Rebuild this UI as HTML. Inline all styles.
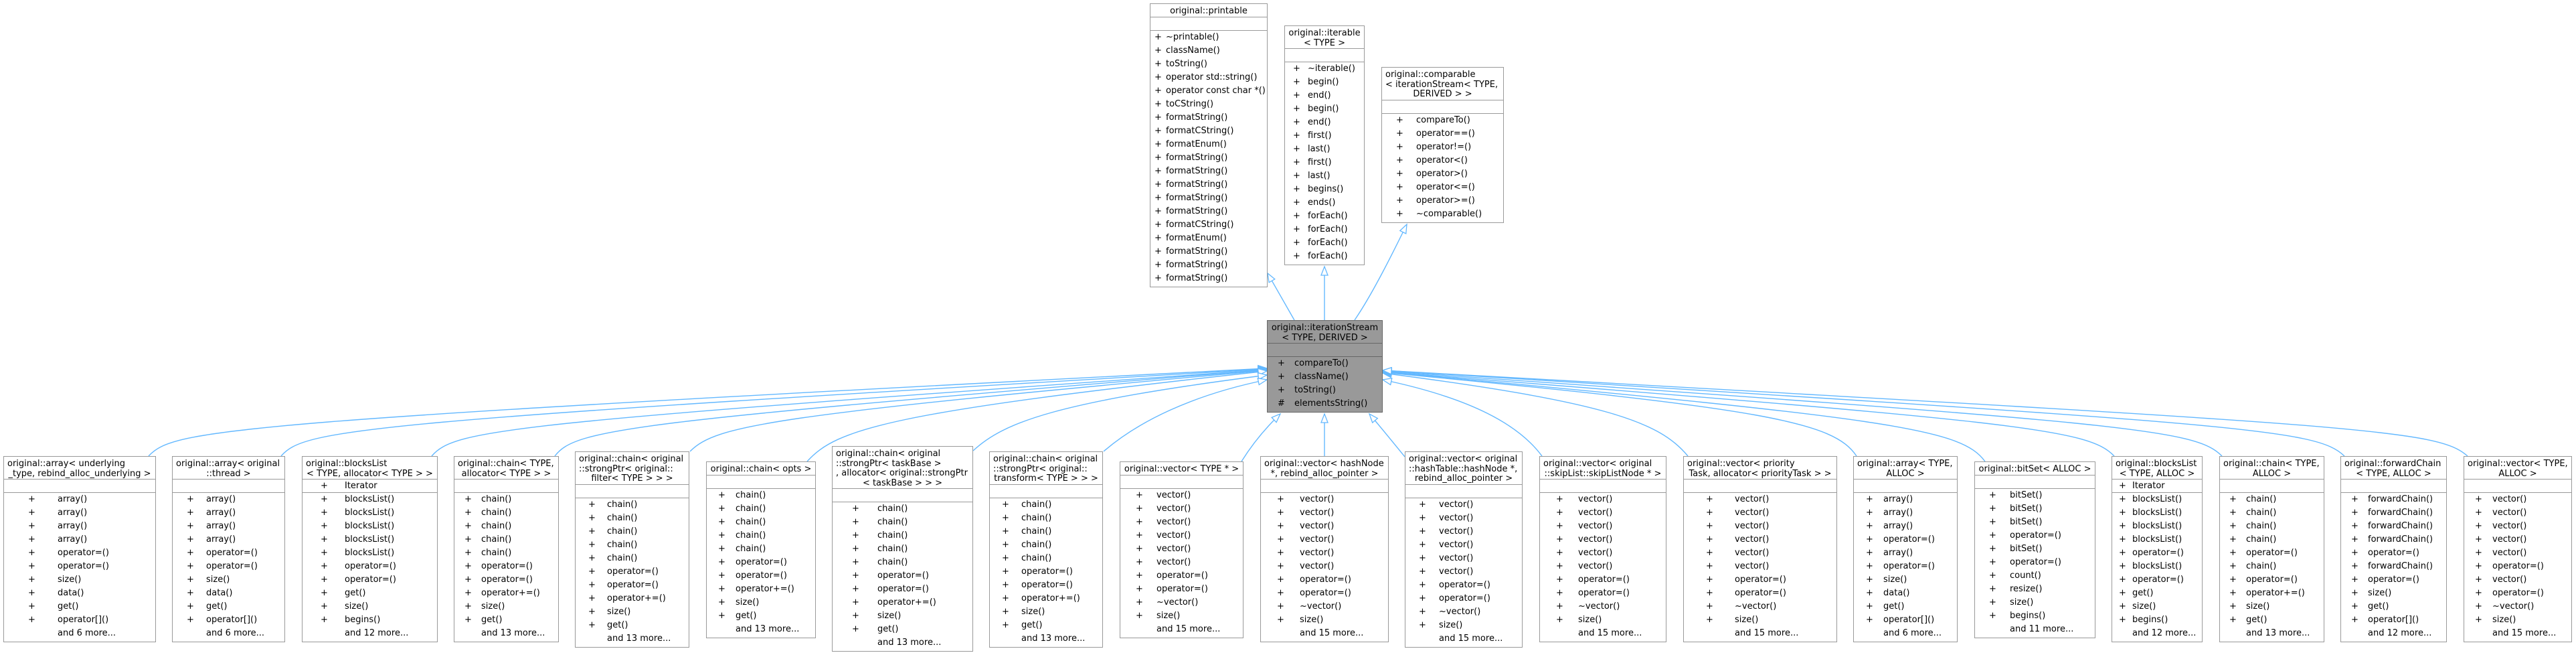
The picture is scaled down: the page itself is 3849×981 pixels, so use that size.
<!DOCTYPE html>
<html><head><meta charset="utf-8">
<style>
html,body{margin:0;padding:0;background:#fff;}
body{width:3849px;height:981px;position:relative;overflow:hidden;font-family:"DejaVu Sans","Liberation Sans",sans-serif;font-size:13px;color:#000;}
svg.edges{position:absolute;left:0;top:0;}
.b{position:absolute;box-sizing:border-box;border:1.5px solid #999;background:#fff;}
.t{box-sizing:border-box;padding-top:4px;border-bottom:1.5px solid #999;line-height:14.5px;white-space:nowrap;}
.t .l{padding-left:5px;text-align:left;}
.t .c{text-align:center;}
.e{height:20px;border-bottom:1.5px solid #999;box-sizing:border-box;position:relative;}
.m{padding-top:0px;padding-bottom:2px;}
.r{position:relative;height:20px;line-height:20px;white-space:nowrap;}
.p{position:absolute;left:var(--p);}
.n{position:absolute;left:var(--n);}
.g{background:#999;border-color:#666;}
.g .t,.g .e{border-color:#666;}
</style></head><body>
<svg class="edges" width="3849" height="981" viewBox="0 0 3849 981">
<defs>
<marker id="a" markerUnits="userSpaceOnUse" markerWidth="16" markerHeight="12" refX="14" refY="6" orient="auto">
<path d="M1,1 L14,6 L1,11 Z" fill="#fff" stroke="#63b8ff" stroke-width="1.3"/>
</marker>
</defs>
<g fill="none" stroke="#63b8ff" stroke-width="1.4" marker-end="url(#a)">
<path d="M1934,478 L1894,408"/>
<path d="M1979,478 L1979,398"/>
<path d="M2024,478 C2050,440 2080,380 2102,335"/>
<path d="M222,681 C260,640 340,630 1893,550"/>
<path d="M420,681 C455,640 540,630 1893,551"/>
<path d="M645,681 C680,640 760,632 1893,552"/>
<path d="M829,681 C860,640 940,630 1893,552"/>
<path d="M1031,674 C1070,635 1150,620 1893,553"/>
<path d="M1206,689 C1250,640 1330,615 1893,554"/>
<path d="M1454,673 C1500,630 1580,600 1893,560"/>
<path d="M1649,674 C1700,630 1780,590 1893,567"/>
<path d="M1855,689 C1870,665 1890,640 1913,618"/>
<path d="M1979,681 L1979,618"/>
<path d="M2099,682 C2085,665 2065,640 2046,618"/>
<path d="M2304,681 C2270,635 2200,595 2066,567"/>
<path d="M2522,681 C2480,630 2400,600 2066,557"/>
<path d="M2774,681 C2740,630 2640,610 2066,556"/>
<path d="M2966,689 C2930,640 2830,625 2066,555"/>
<path d="M3159,681 C3120,640 3020,630 2066,555"/>
<path d="M3320,681 C3280,640 3180,632 2066,554"/>
<path d="M3503,681 C3460,640 3360,634 2066,553"/>
<path d="M3687,681 C3640,640 3540,636 2066,553"/>
</g>
</svg>

<!-- printable -->
<div class="b" style="left:1718px;top:5px;width:176px;--p:6px;--n:23px">
<div class="t"><div class="c">original::printable</div></div><div class="e"></div>
<div class="m">
<div class="r"><span class="p">+</span><span class="n">~printable()</span></div>
<div class="r"><span class="p">+</span><span class="n">className()</span></div>
<div class="r"><span class="p">+</span><span class="n">toString()</span></div>
<div class="r"><span class="p">+</span><span class="n">operator std::string()</span></div>
<div class="r"><span class="p">+</span><span class="n">operator const char *()</span></div>
<div class="r"><span class="p">+</span><span class="n">toCString()</span></div>
<div class="r"><span class="p">+</span><span class="n">formatString()</span></div>
<div class="r"><span class="p">+</span><span class="n">formatCString()</span></div>
<div class="r"><span class="p">+</span><span class="n">formatEnum()</span></div>
<div class="r"><span class="p">+</span><span class="n">formatString()</span></div>
<div class="r"><span class="p">+</span><span class="n">formatString()</span></div>
<div class="r"><span class="p">+</span><span class="n">formatString()</span></div>
<div class="r"><span class="p">+</span><span class="n">formatString()</span></div>
<div class="r"><span class="p">+</span><span class="n">formatString()</span></div>
<div class="r"><span class="p">+</span><span class="n">formatCString()</span></div>
<div class="r"><span class="p">+</span><span class="n">formatEnum()</span></div>
<div class="r"><span class="p">+</span><span class="n">formatString()</span></div>
<div class="r"><span class="p">+</span><span class="n">formatString()</span></div>
<div class="r"><span class="p">+</span><span class="n">formatString()</span></div>
</div></div>

<!-- iterable -->
<div class="b" style="left:1919px;top:38px;width:120px;--p:12px;--n:34px">
<div class="t"><div class="c">original::iterable</div><div class="c">&lt; TYPE &gt;</div></div><div class="e"></div>
<div class="m">
<div class="r"><span class="p">+</span><span class="n">~iterable()</span></div>
<div class="r"><span class="p">+</span><span class="n">begin()</span></div>
<div class="r"><span class="p">+</span><span class="n">end()</span></div>
<div class="r"><span class="p">+</span><span class="n">begin()</span></div>
<div class="r"><span class="p">+</span><span class="n">end()</span></div>
<div class="r"><span class="p">+</span><span class="n">first()</span></div>
<div class="r"><span class="p">+</span><span class="n">last()</span></div>
<div class="r"><span class="p">+</span><span class="n">first()</span></div>
<div class="r"><span class="p">+</span><span class="n">last()</span></div>
<div class="r"><span class="p">+</span><span class="n">begins()</span></div>
<div class="r"><span class="p">+</span><span class="n">ends()</span></div>
<div class="r"><span class="p">+</span><span class="n">forEach()</span></div>
<div class="r"><span class="p">+</span><span class="n">forEach()</span></div>
<div class="r"><span class="p">+</span><span class="n">forEach()</span></div>
<div class="r"><span class="p">+</span><span class="n">forEach()</span></div>
</div></div>

<!-- comparable -->
<div class="b" style="left:2064px;top:100px;width:183px;--p:21px;--n:51px">
<div class="t"><div class="l">original::comparable</div><div class="l">&lt; iterationStream&lt; TYPE,</div><div class="c">DERIVED &gt; &gt;</div></div><div class="e"></div>
<div class="m">
<div class="r"><span class="p">+</span><span class="n">compareTo()</span></div>
<div class="r"><span class="p">+</span><span class="n">operator==()</span></div>
<div class="r"><span class="p">+</span><span class="n">operator!=()</span></div>
<div class="r"><span class="p">+</span><span class="n">operator&lt;()</span></div>
<div class="r"><span class="p">+</span><span class="n">operator&gt;()</span></div>
<div class="r"><span class="p">+</span><span class="n">operator&lt;=()</span></div>
<div class="r"><span class="p">+</span><span class="n">operator&gt;=()</span></div>
<div class="r"><span class="p">+</span><span class="n">~comparable()</span></div>
</div></div>

<!-- iterationStream -->
<div class="b g" style="left:1893px;top:478px;width:173px;--p:15px;--n:40px">
<div class="t"><div class="c">original::iterationStream</div><div class="c">&lt; TYPE, DERIVED &gt;</div></div><div class="e"></div>
<div class="m">
<div class="r"><span class="p">+</span><span class="n">compareTo()</span></div>
<div class="r"><span class="p">+</span><span class="n">className()</span></div>
<div class="r"><span class="p">+</span><span class="n">toString()</span></div>
<div class="r"><span class="p">#</span><span class="n">elementsString()</span></div>
</div></div>

<!-- B1 -->
<div class="b" style="left:5px;top:681px;width:228px;--p:36px;--n:80px">
<div class="t"><div class="l">original::array&lt; underlying</div><div class="c">_type, rebind_alloc_underlying &gt;</div></div><div class="e"></div>
<div class="m">
<div class="r"><span class="p">+</span><span class="n">array()</span></div>
<div class="r"><span class="p">+</span><span class="n">array()</span></div>
<div class="r"><span class="p">+</span><span class="n">array()</span></div>
<div class="r"><span class="p">+</span><span class="n">array()</span></div>
<div class="r"><span class="p">+</span><span class="n">operator=()</span></div>
<div class="r"><span class="p">+</span><span class="n">operator=()</span></div>
<div class="r"><span class="p">+</span><span class="n">size()</span></div>
<div class="r"><span class="p">+</span><span class="n">data()</span></div>
<div class="r"><span class="p">+</span><span class="n">get()</span></div>
<div class="r"><span class="p">+</span><span class="n">operator[]()</span></div>
<div class="r"><span class="n">and 6 more...</span></div>
</div></div>

<!-- B2 -->
<div class="b" style="left:257px;top:681px;width:169px;--p:21px;--n:50px">
<div class="t"><div class="l">original::array&lt; original</div><div class="c">::thread &gt;</div></div><div class="e"></div>
<div class="m">
<div class="r"><span class="p">+</span><span class="n">array()</span></div>
<div class="r"><span class="p">+</span><span class="n">array()</span></div>
<div class="r"><span class="p">+</span><span class="n">array()</span></div>
<div class="r"><span class="p">+</span><span class="n">array()</span></div>
<div class="r"><span class="p">+</span><span class="n">operator=()</span></div>
<div class="r"><span class="p">+</span><span class="n">operator=()</span></div>
<div class="r"><span class="p">+</span><span class="n">size()</span></div>
<div class="r"><span class="p">+</span><span class="n">data()</span></div>
<div class="r"><span class="p">+</span><span class="n">get()</span></div>
<div class="r"><span class="p">+</span><span class="n">operator[]()</span></div>
<div class="r"><span class="n">and 6 more...</span></div>
</div></div>

<!-- B3 -->
<div class="b" style="left:451px;top:681px;width:203px;--p:27px;--n:63px">
<div class="t"><div class="l">original::blocksList</div><div class="c">&lt; TYPE, allocator&lt; TYPE &gt; &gt;</div></div>
<div class="e"><div class="r"><span class="p">+</span><span class="n">Iterator</span></div></div>
<div class="m">
<div class="r"><span class="p">+</span><span class="n">blocksList()</span></div>
<div class="r"><span class="p">+</span><span class="n">blocksList()</span></div>
<div class="r"><span class="p">+</span><span class="n">blocksList()</span></div>
<div class="r"><span class="p">+</span><span class="n">blocksList()</span></div>
<div class="r"><span class="p">+</span><span class="n">blocksList()</span></div>
<div class="r"><span class="p">+</span><span class="n">operator=()</span></div>
<div class="r"><span class="p">+</span><span class="n">operator=()</span></div>
<div class="r"><span class="p">+</span><span class="n">get()</span></div>
<div class="r"><span class="p">+</span><span class="n">size()</span></div>
<div class="r"><span class="p">+</span><span class="n">begins()</span></div>
<div class="r"><span class="n">and 12 more...</span></div>
</div></div>

<!-- B4 -->
<div class="b" style="left:678px;top:681px;width:157px;--p:15px;--n:40px">
<div class="t"><div class="l">original::chain&lt; TYPE,</div><div class="c">allocator&lt; TYPE &gt; &gt;</div></div><div class="e"></div>
<div class="m">
<div class="r"><span class="p">+</span><span class="n">chain()</span></div>
<div class="r"><span class="p">+</span><span class="n">chain()</span></div>
<div class="r"><span class="p">+</span><span class="n">chain()</span></div>
<div class="r"><span class="p">+</span><span class="n">chain()</span></div>
<div class="r"><span class="p">+</span><span class="n">chain()</span></div>
<div class="r"><span class="p">+</span><span class="n">operator=()</span></div>
<div class="r"><span class="p">+</span><span class="n">operator=()</span></div>
<div class="r"><span class="p">+</span><span class="n">operator+=()</span></div>
<div class="r"><span class="p">+</span><span class="n">size()</span></div>
<div class="r"><span class="p">+</span><span class="n">get()</span></div>
<div class="r"><span class="n">and 13 more...</span></div>
</div></div>

<!-- B5 -->
<div class="b" style="left:859px;top:674px;width:171px;--p:19px;--n:47px">
<div class="t"><div class="l">original::chain&lt; original</div><div class="l">::strongPtr&lt; original::</div><div class="c">filter&lt; TYPE &gt; &gt; &gt;</div></div><div class="e"></div>
<div class="m">
<div class="r"><span class="p">+</span><span class="n">chain()</span></div>
<div class="r"><span class="p">+</span><span class="n">chain()</span></div>
<div class="r"><span class="p">+</span><span class="n">chain()</span></div>
<div class="r"><span class="p">+</span><span class="n">chain()</span></div>
<div class="r"><span class="p">+</span><span class="n">chain()</span></div>
<div class="r"><span class="p">+</span><span class="n">operator=()</span></div>
<div class="r"><span class="p">+</span><span class="n">operator=()</span></div>
<div class="r"><span class="p">+</span><span class="n">operator+=()</span></div>
<div class="r"><span class="p">+</span><span class="n">size()</span></div>
<div class="r"><span class="p">+</span><span class="n">get()</span></div>
<div class="r"><span class="n">and 13 more...</span></div>
</div></div>

<!-- B6 -->
<div class="b" style="left:1055px;top:689px;width:164px;--p:17px;--n:43px">
<div class="t"><div class="c">original::chain&lt; opts &gt;</div></div><div class="e"></div>
<div class="m">
<div class="r"><span class="p">+</span><span class="n">chain()</span></div>
<div class="r"><span class="p">+</span><span class="n">chain()</span></div>
<div class="r"><span class="p">+</span><span class="n">chain()</span></div>
<div class="r"><span class="p">+</span><span class="n">chain()</span></div>
<div class="r"><span class="p">+</span><span class="n">chain()</span></div>
<div class="r"><span class="p">+</span><span class="n">operator=()</span></div>
<div class="r"><span class="p">+</span><span class="n">operator=()</span></div>
<div class="r"><span class="p">+</span><span class="n">operator+=()</span></div>
<div class="r"><span class="p">+</span><span class="n">size()</span></div>
<div class="r"><span class="p">+</span><span class="n">get()</span></div>
<div class="r"><span class="n">and 13 more...</span></div>
</div></div>

<!-- B7 -->
<div class="b" style="left:1243px;top:666px;width:211px;--p:29px;--n:67px">
<div class="t"><div class="l">original::chain&lt; original</div><div class="l">::strongPtr&lt; taskBase &gt;</div><div class="l">, allocator&lt; original::strongPtr</div><div class="c">&lt; taskBase &gt; &gt; &gt;</div></div><div class="e"></div>
<div class="m">
<div class="r"><span class="p">+</span><span class="n">chain()</span></div>
<div class="r"><span class="p">+</span><span class="n">chain()</span></div>
<div class="r"><span class="p">+</span><span class="n">chain()</span></div>
<div class="r"><span class="p">+</span><span class="n">chain()</span></div>
<div class="r"><span class="p">+</span><span class="n">chain()</span></div>
<div class="r"><span class="p">+</span><span class="n">operator=()</span></div>
<div class="r"><span class="p">+</span><span class="n">operator=()</span></div>
<div class="r"><span class="p">+</span><span class="n">operator+=()</span></div>
<div class="r"><span class="p">+</span><span class="n">size()</span></div>
<div class="r"><span class="p">+</span><span class="n">get()</span></div>
<div class="r"><span class="n">and 13 more...</span></div>
</div></div>

<!-- B8 -->
<div class="b" style="left:1478px;top:674px;width:170px;--p:18px;--n:47px">
<div class="t"><div class="l">original::chain&lt; original</div><div class="l">::strongPtr&lt; original::</div><div class="c">transform&lt; TYPE &gt; &gt; &gt;</div></div><div class="e"></div>
<div class="m">
<div class="r"><span class="p">+</span><span class="n">chain()</span></div>
<div class="r"><span class="p">+</span><span class="n">chain()</span></div>
<div class="r"><span class="p">+</span><span class="n">chain()</span></div>
<div class="r"><span class="p">+</span><span class="n">chain()</span></div>
<div class="r"><span class="p">+</span><span class="n">chain()</span></div>
<div class="r"><span class="p">+</span><span class="n">operator=()</span></div>
<div class="r"><span class="p">+</span><span class="n">operator=()</span></div>
<div class="r"><span class="p">+</span><span class="n">operator+=()</span></div>
<div class="r"><span class="p">+</span><span class="n">size()</span></div>
<div class="r"><span class="p">+</span><span class="n">get()</span></div>
<div class="r"><span class="n">and 13 more...</span></div>
</div></div>

<!-- B9 -->
<div class="b" style="left:1673px;top:689px;width:185px;--p:23px;--n:54px">
<div class="t"><div class="c">original::vector&lt; TYPE * &gt;</div></div><div class="e"></div>
<div class="m">
<div class="r"><span class="p">+</span><span class="n">vector()</span></div>
<div class="r"><span class="p">+</span><span class="n">vector()</span></div>
<div class="r"><span class="p">+</span><span class="n">vector()</span></div>
<div class="r"><span class="p">+</span><span class="n">vector()</span></div>
<div class="r"><span class="p">+</span><span class="n">vector()</span></div>
<div class="r"><span class="p">+</span><span class="n">vector()</span></div>
<div class="r"><span class="p">+</span><span class="n">operator=()</span></div>
<div class="r"><span class="p">+</span><span class="n">operator=()</span></div>
<div class="r"><span class="p">+</span><span class="n">~vector()</span></div>
<div class="r"><span class="p">+</span><span class="n">size()</span></div>
<div class="r"><span class="n">and 15 more...</span></div>
</div></div>

<!-- B10 -->
<div class="b" style="left:1883px;top:681px;width:192px;--p:24px;--n:58px">
<div class="t"><div class="l">original::vector&lt; hashNode</div><div class="c">*, rebind_alloc_pointer &gt;</div></div><div class="e"></div>
<div class="m">
<div class="r"><span class="p">+</span><span class="n">vector()</span></div>
<div class="r"><span class="p">+</span><span class="n">vector()</span></div>
<div class="r"><span class="p">+</span><span class="n">vector()</span></div>
<div class="r"><span class="p">+</span><span class="n">vector()</span></div>
<div class="r"><span class="p">+</span><span class="n">vector()</span></div>
<div class="r"><span class="p">+</span><span class="n">vector()</span></div>
<div class="r"><span class="p">+</span><span class="n">operator=()</span></div>
<div class="r"><span class="p">+</span><span class="n">operator=()</span></div>
<div class="r"><span class="p">+</span><span class="n">~vector()</span></div>
<div class="r"><span class="p">+</span><span class="n">size()</span></div>
<div class="r"><span class="n">and 15 more...</span></div>
</div></div>

<!-- B11 -->
<div class="b" style="left:2099px;top:674px;width:176px;--p:20px;--n:50px">
<div class="t"><div class="l">original::vector&lt; original</div><div class="l">::hashTable::hashNode *,</div><div class="c">rebind_alloc_pointer &gt;</div></div><div class="e"></div>
<div class="m">
<div class="r"><span class="p">+</span><span class="n">vector()</span></div>
<div class="r"><span class="p">+</span><span class="n">vector()</span></div>
<div class="r"><span class="p">+</span><span class="n">vector()</span></div>
<div class="r"><span class="p">+</span><span class="n">vector()</span></div>
<div class="r"><span class="p">+</span><span class="n">vector()</span></div>
<div class="r"><span class="p">+</span><span class="n">vector()</span></div>
<div class="r"><span class="p">+</span><span class="n">operator=()</span></div>
<div class="r"><span class="p">+</span><span class="n">operator=()</span></div>
<div class="r"><span class="p">+</span><span class="n">~vector()</span></div>
<div class="r"><span class="p">+</span><span class="n">size()</span></div>
<div class="r"><span class="n">and 15 more...</span></div>
</div></div>

<!-- B12 -->
<div class="b" style="left:2300px;top:681px;width:190px;--p:24px;--n:57px">
<div class="t"><div class="l">original::vector&lt; original</div><div class="c">::skipList::skipListNode * &gt;</div></div><div class="e"></div>
<div class="m">
<div class="r"><span class="p">+</span><span class="n">vector()</span></div>
<div class="r"><span class="p">+</span><span class="n">vector()</span></div>
<div class="r"><span class="p">+</span><span class="n">vector()</span></div>
<div class="r"><span class="p">+</span><span class="n">vector()</span></div>
<div class="r"><span class="p">+</span><span class="n">vector()</span></div>
<div class="r"><span class="p">+</span><span class="n">vector()</span></div>
<div class="r"><span class="p">+</span><span class="n">operator=()</span></div>
<div class="r"><span class="p">+</span><span class="n">operator=()</span></div>
<div class="r"><span class="p">+</span><span class="n">~vector()</span></div>
<div class="r"><span class="p">+</span><span class="n">size()</span></div>
<div class="r"><span class="n">and 15 more...</span></div>
</div></div>

<!-- B13 -->
<div class="b" style="left:2515px;top:681px;width:230px;--p:33px;--n:76px">
<div class="t"><div class="l">original::vector&lt; priority</div><div class="c">Task, allocator&lt; priorityTask &gt; &gt;</div></div><div class="e"></div>
<div class="m">
<div class="r"><span class="p">+</span><span class="n">vector()</span></div>
<div class="r"><span class="p">+</span><span class="n">vector()</span></div>
<div class="r"><span class="p">+</span><span class="n">vector()</span></div>
<div class="r"><span class="p">+</span><span class="n">vector()</span></div>
<div class="r"><span class="p">+</span><span class="n">vector()</span></div>
<div class="r"><span class="p">+</span><span class="n">vector()</span></div>
<div class="r"><span class="p">+</span><span class="n">operator=()</span></div>
<div class="r"><span class="p">+</span><span class="n">operator=()</span></div>
<div class="r"><span class="p">+</span><span class="n">~vector()</span></div>
<div class="r"><span class="p">+</span><span class="n">size()</span></div>
<div class="r"><span class="n">and 15 more...</span></div>
</div></div>

<!-- B14 -->
<div class="b" style="left:2769px;top:681px;width:156px;--p:18px;--n:44px">
<div class="t"><div class="l">original::array&lt; TYPE,</div><div class="c">ALLOC &gt;</div></div><div class="e"></div>
<div class="m">
<div class="r"><span class="p">+</span><span class="n">array()</span></div>
<div class="r"><span class="p">+</span><span class="n">array()</span></div>
<div class="r"><span class="p">+</span><span class="n">array()</span></div>
<div class="r"><span class="p">+</span><span class="n">operator=()</span></div>
<div class="r"><span class="p">+</span><span class="n">array()</span></div>
<div class="r"><span class="p">+</span><span class="n">operator=()</span></div>
<div class="r"><span class="p">+</span><span class="n">size()</span></div>
<div class="r"><span class="p">+</span><span class="n">data()</span></div>
<div class="r"><span class="p">+</span><span class="n">get()</span></div>
<div class="r"><span class="p">+</span><span class="n">operator[]()</span></div>
<div class="r"><span class="n">and 6 more...</span></div>
</div></div>

<!-- B15 -->
<div class="b" style="left:2950px;top:689px;width:181px;--p:21px;--n:52px">
<div class="t"><div class="c">original::bitSet&lt; ALLOC &gt;</div></div><div class="e"></div>
<div class="m">
<div class="r"><span class="p">+</span><span class="n">bitSet()</span></div>
<div class="r"><span class="p">+</span><span class="n">bitSet()</span></div>
<div class="r"><span class="p">+</span><span class="n">bitSet()</span></div>
<div class="r"><span class="p">+</span><span class="n">operator=()</span></div>
<div class="r"><span class="p">+</span><span class="n">bitSet()</span></div>
<div class="r"><span class="p">+</span><span class="n">operator=()</span></div>
<div class="r"><span class="p">+</span><span class="n">count()</span></div>
<div class="r"><span class="p">+</span><span class="n">resize()</span></div>
<div class="r"><span class="p">+</span><span class="n">size()</span></div>
<div class="r"><span class="p">+</span><span class="n">begins()</span></div>
<div class="r"><span class="n">and 11 more...</span></div>
</div></div>

<!-- B16 -->
<div class="b" style="left:3155px;top:681px;width:136px;--p:10px;--n:30px">
<div class="t"><div class="l">original::blocksList</div><div class="c">&lt; TYPE, ALLOC &gt;</div></div>
<div class="e"><div class="r"><span class="p">+</span><span class="n">Iterator</span></div></div>
<div class="m">
<div class="r"><span class="p">+</span><span class="n">blocksList()</span></div>
<div class="r"><span class="p">+</span><span class="n">blocksList()</span></div>
<div class="r"><span class="p">+</span><span class="n">blocksList()</span></div>
<div class="r"><span class="p">+</span><span class="n">blocksList()</span></div>
<div class="r"><span class="p">+</span><span class="n">operator=()</span></div>
<div class="r"><span class="p">+</span><span class="n">blocksList()</span></div>
<div class="r"><span class="p">+</span><span class="n">operator=()</span></div>
<div class="r"><span class="p">+</span><span class="n">get()</span></div>
<div class="r"><span class="p">+</span><span class="n">size()</span></div>
<div class="r"><span class="p">+</span><span class="n">begins()</span></div>
<div class="r"><span class="n">and 12 more...</span></div>
</div></div>

<!-- B17 -->
<div class="b" style="left:3316px;top:681px;width:157px;--p:14px;--n:39px">
<div class="t"><div class="l">original::chain&lt; TYPE,</div><div class="c">ALLOC &gt;</div></div><div class="e"></div>
<div class="m">
<div class="r"><span class="p">+</span><span class="n">chain()</span></div>
<div class="r"><span class="p">+</span><span class="n">chain()</span></div>
<div class="r"><span class="p">+</span><span class="n">chain()</span></div>
<div class="r"><span class="p">+</span><span class="n">chain()</span></div>
<div class="r"><span class="p">+</span><span class="n">operator=()</span></div>
<div class="r"><span class="p">+</span><span class="n">chain()</span></div>
<div class="r"><span class="p">+</span><span class="n">operator=()</span></div>
<div class="r"><span class="p">+</span><span class="n">operator+=()</span></div>
<div class="r"><span class="p">+</span><span class="n">size()</span></div>
<div class="r"><span class="p">+</span><span class="n">get()</span></div>
<div class="r"><span class="n">and 13 more...</span></div>
</div></div>

<!-- B18 -->
<div class="b" style="left:3497px;top:681px;width:159px;--p:15px;--n:40px">
<div class="t"><div class="l">original::forwardChain</div><div class="c">&lt; TYPE, ALLOC &gt;</div></div><div class="e"></div>
<div class="m">
<div class="r"><span class="p">+</span><span class="n">forwardChain()</span></div>
<div class="r"><span class="p">+</span><span class="n">forwardChain()</span></div>
<div class="r"><span class="p">+</span><span class="n">forwardChain()</span></div>
<div class="r"><span class="p">+</span><span class="n">forwardChain()</span></div>
<div class="r"><span class="p">+</span><span class="n">operator=()</span></div>
<div class="r"><span class="p">+</span><span class="n">forwardChain()</span></div>
<div class="r"><span class="p">+</span><span class="n">operator=()</span></div>
<div class="r"><span class="p">+</span><span class="n">size()</span></div>
<div class="r"><span class="p">+</span><span class="n">get()</span></div>
<div class="r"><span class="p">+</span><span class="n">operator[]()</span></div>
<div class="r"><span class="n">and 12 more...</span></div>
</div></div>

<!-- B19 -->
<div class="b" style="left:3681px;top:681px;width:162px;--p:16px;--n:42px">
<div class="t"><div class="l">original::vector&lt; TYPE,</div><div class="c">ALLOC &gt;</div></div><div class="e"></div>
<div class="m">
<div class="r"><span class="p">+</span><span class="n">vector()</span></div>
<div class="r"><span class="p">+</span><span class="n">vector()</span></div>
<div class="r"><span class="p">+</span><span class="n">vector()</span></div>
<div class="r"><span class="p">+</span><span class="n">vector()</span></div>
<div class="r"><span class="p">+</span><span class="n">vector()</span></div>
<div class="r"><span class="p">+</span><span class="n">operator=()</span></div>
<div class="r"><span class="p">+</span><span class="n">vector()</span></div>
<div class="r"><span class="p">+</span><span class="n">operator=()</span></div>
<div class="r"><span class="p">+</span><span class="n">~vector()</span></div>
<div class="r"><span class="p">+</span><span class="n">size()</span></div>
<div class="r"><span class="n">and 15 more...</span></div>
</div></div>

</body></html>
